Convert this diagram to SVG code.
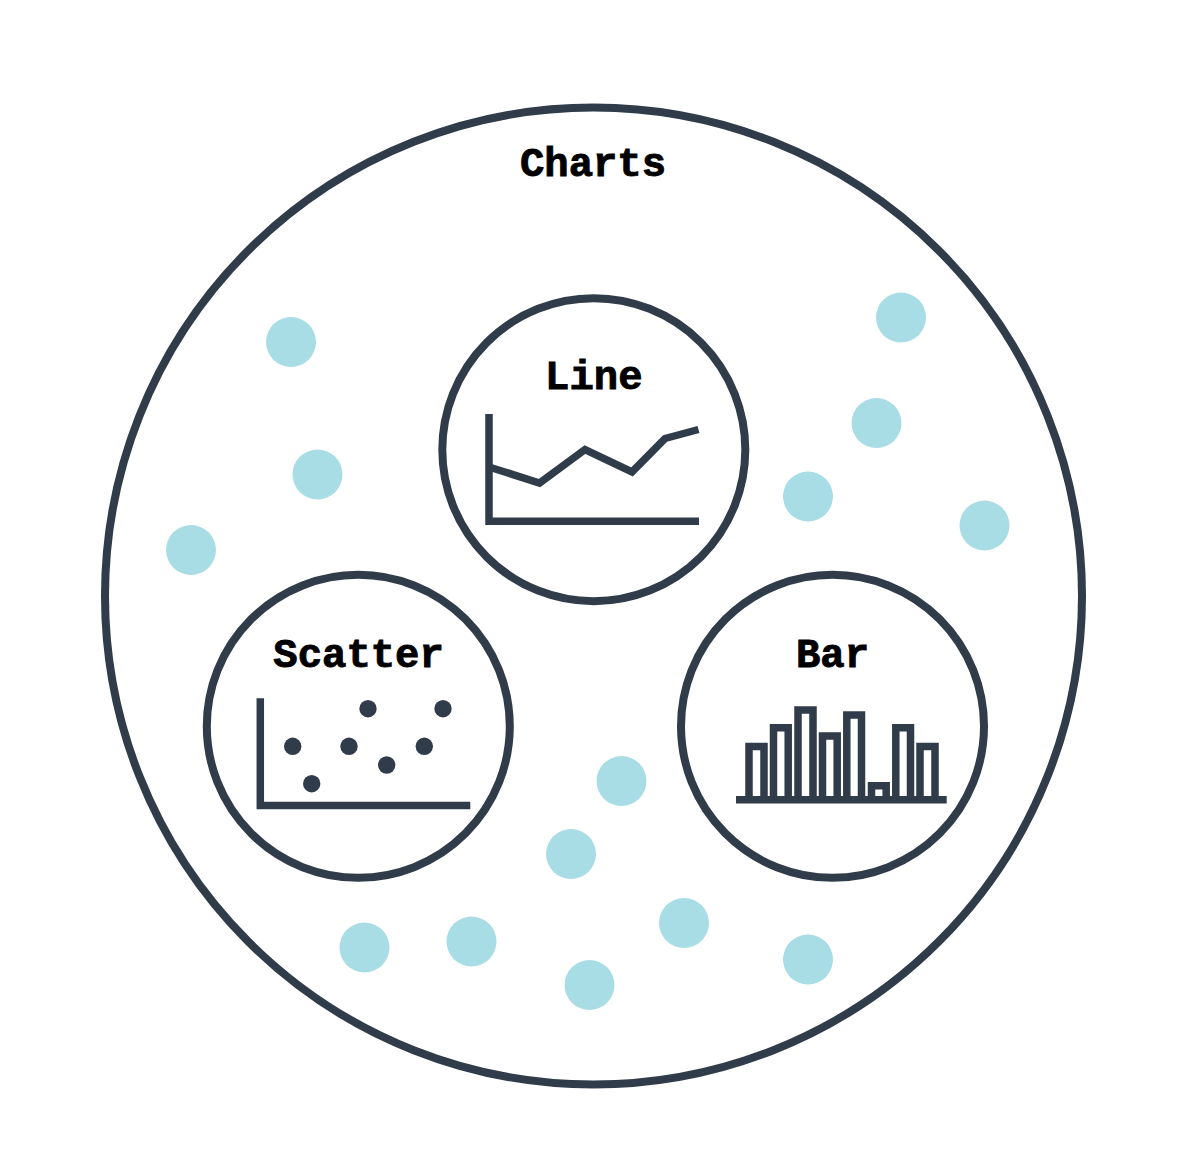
<svg xmlns="http://www.w3.org/2000/svg" width="1200" height="1172" viewBox="0 0 1200 1172">
<style>
.ring{fill:none;stroke:#303c49;stroke-width:8}
.ink{fill:none;stroke:#303c49;stroke-width:7.5;stroke-linejoin:miter}
.pt{fill:#303c49}
.soft{fill:#a9dde6}
text{font-family:"Liberation Mono","DejaVu Sans Mono",monospace;font-weight:700;font-size:40.6px;fill:#000;stroke:#000;stroke-width:0.9;text-anchor:middle}
</style>
<rect width="1200" height="1172" fill="#fff"/>
<g id="charts">
<circle class="ring" cx="593.5" cy="596" r="488.5"/>
<text x="593" y="176">Charts</text>
</g>
<g id="items">
<circle class="soft" cx="291" cy="342" r="25"/>
<circle class="soft" cx="317.5" cy="474.5" r="25"/>
<circle class="soft" cx="191" cy="550" r="25"/>
<circle class="soft" cx="901" cy="317.5" r="25"/>
<circle class="soft" cx="876.5" cy="423" r="25"/>
<circle class="soft" cx="808" cy="496.5" r="25"/>
<circle class="soft" cx="984.5" cy="525.5" r="25"/>
<circle class="soft" cx="621.5" cy="781" r="25"/>
<circle class="soft" cx="571" cy="854" r="25"/>
<circle class="soft" cx="364.5" cy="947.5" r="25"/>
<circle class="soft" cx="471.5" cy="941.5" r="25"/>
<circle class="soft" cx="589.5" cy="985" r="25"/>
<circle class="soft" cx="684" cy="923" r="25"/>
<circle class="soft" cx="808" cy="959.5" r="25"/>
</g>
<g id="line">
<circle class="ring" cx="593.8" cy="449.7" r="151.5"/>
<text x="593.8" y="389">Line</text>
<path class="ink" d="M489 414V521.3H699"/>
<path class="ink" d="M489 467L539.5 483L585 449.5L632 472L665 438.5L698.5 429.5"/>
</g>
<g id="scatter">
<circle class="ring" cx="358.3" cy="726.3" r="151.5"/>
<text x="358.6" y="666.5">Scatter</text>
<path class="ink" d="M260.3 698.3V805.5H470.3"/>
<circle class="pt" cx="368" cy="708.7" r="8.7"/>
<circle class="pt" cx="443" cy="708.7" r="8.7"/>
<circle class="pt" cx="292.7" cy="746.3" r="8.7"/>
<circle class="pt" cx="349" cy="746.3" r="8.7"/>
<circle class="pt" cx="424.3" cy="746.3" r="8.7"/>
<circle class="pt" cx="386.7" cy="765" r="8.7"/>
<circle class="pt" cx="311.7" cy="783.7" r="8.7"/>
</g>
<g id="bar">
<circle class="ring" cx="832.5" cy="726.3" r="151.5"/>
<text x="832.5" y="666.5">Bar</text>
<path class="ink" d="M736 799.7H946.7"/>
<path class="ink" d="M749 799.7V746.4H764V799.7M773.5 799.7V727.8H788.2V799.7M798 799.7V710H813V799.7M822.5 799.7V736H837.2V799.7M846.8 799.7V715H861.5V799.7M871.5 799.7V785.8H886.2V799.7M895.8 799.7V727.8H910.5V799.7M920 799.7V746.4H935V799.7"/>
</g>
</svg>
